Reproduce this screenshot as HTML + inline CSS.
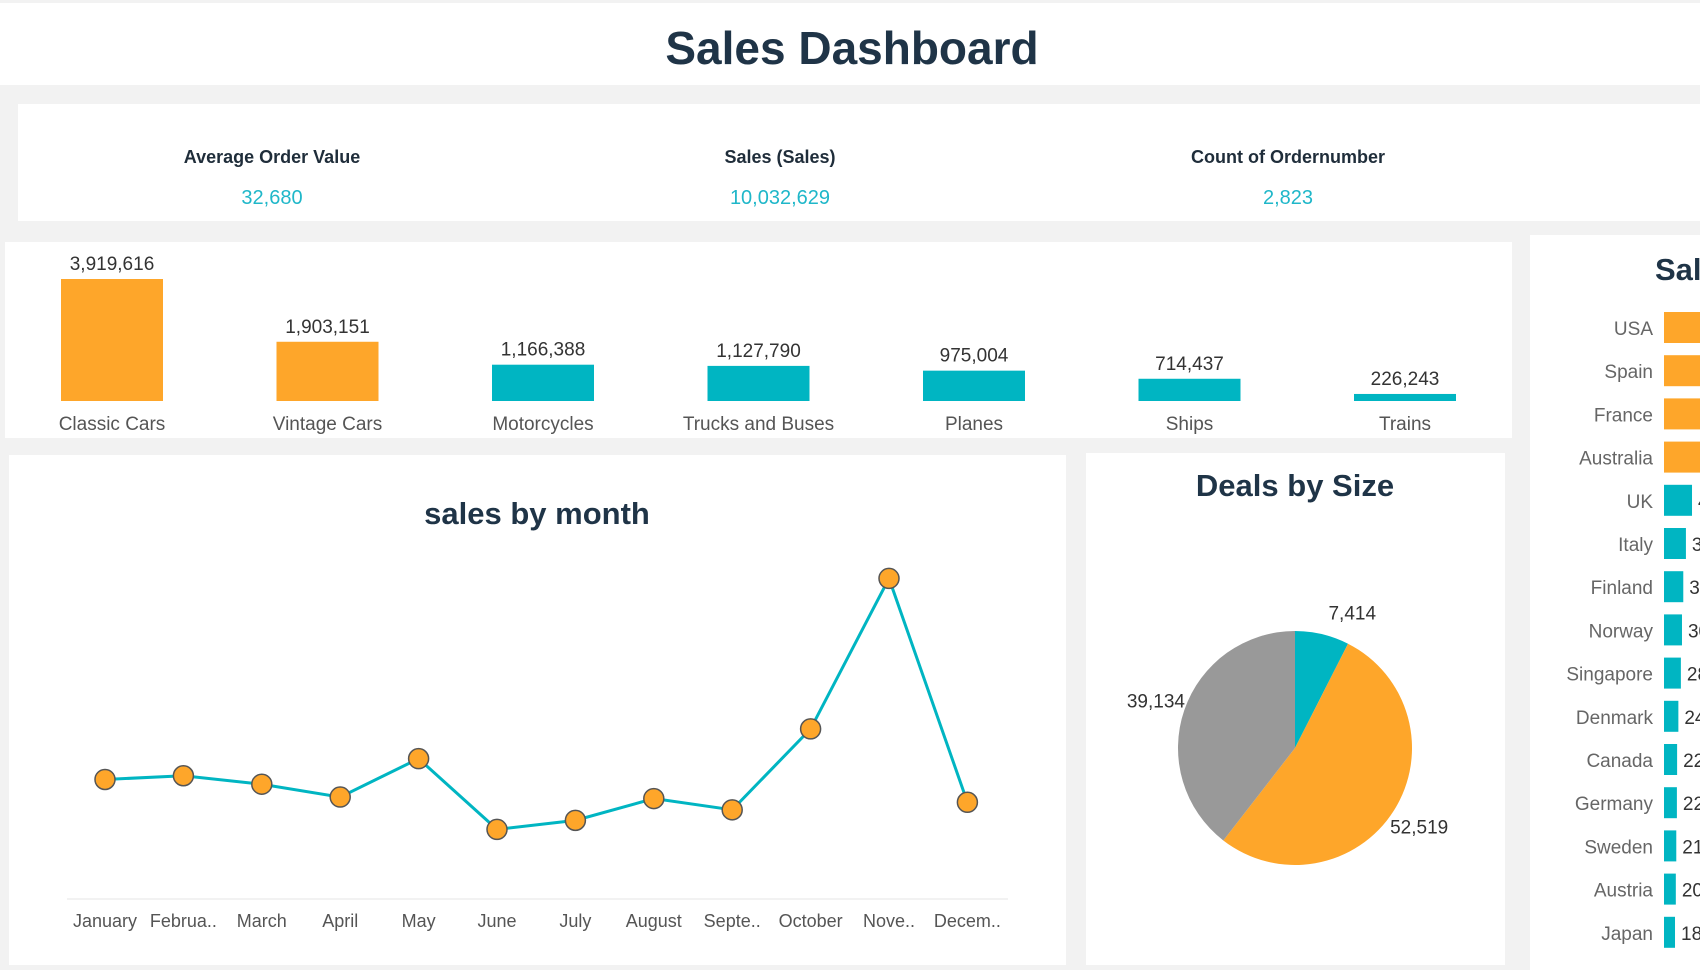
<!DOCTYPE html>
<html><head><meta charset="utf-8"><style>
body{margin:0;width:1700px;height:970px;background:#f2f2f2;overflow:hidden;font-family:"Liberation Sans",sans-serif}
svg{display:block}
</style></head><body>
<svg id="s" width="1700" height="970" xmlns="http://www.w3.org/2000/svg">
<rect x="0" y="3" width="1700" height="82" fill="#fff"/>
<text x="852" y="64" text-anchor="middle" font-size="46" font-weight="bold" fill="#1f3447">Sales Dashboard</text>
<rect x="18" y="104" width="1682" height="117" fill="#fff"/>
<g font-weight="bold" font-size="18" fill="#1f2d3a" text-anchor="middle">
<text x="272" y="163">Average Order Value</text>
<text x="780" y="163">Sales (Sales)</text>
<text x="1288" y="163">Count of Ordernumber</text>
</g>
<g font-size="20" fill="#1fb7c9" text-anchor="middle">
<text x="272" y="204">32,680</text>
<text x="780" y="204">10,032,629</text>
<text x="1288" y="204">2,823</text>
</g>
<rect x="5" y="242" width="1507" height="196" fill="#fff"/>
<g id="cat"></g>
<rect x="9" y="455" width="1057" height="510" fill="#fff"/>
<text x="537" y="524" text-anchor="middle" font-size="31" font-weight="bold" fill="#1f3447">sales by month</text>
<line x1="67" y1="899" x2="1008" y2="899" stroke="#e6e6e6"/>
<g id="line"></g>
<rect x="1086" y="453" width="419" height="512" fill="#fff"/>
<text x="1295" y="496" text-anchor="middle" font-size="31" font-weight="bold" fill="#1f3447">Deals by Size</text>
<g id="pie"></g>
<rect x="1530" y="235" width="170" height="735" fill="#fff"/>
<text x="1655" y="280" font-size="31" font-weight="bold" fill="#1f3447">Sales by Country</text>
<g id="ctry"></g>
</svg>
<script>
const NS="http://www.w3.org/2000/svg";
const catNames=["Classic Cars","Vintage Cars","Motorcycles","Trucks and Buses","Planes","Ships","Trains"];
const catValues=[3919616,1903151,1166388,1127790,975004,714437,226243];
const catColors=["#fea62a","#fea62a","#00b5c2","#00b5c2","#00b5c2","#00b5c2","#00b5c2"];
const months=["January","Februa..","March","April","May","June","July","August","Septe..","October","Nove..","Decem.."];
const monthSales=[785874,810441,754501,669390,923973,454757,514876,659311,584724,1121215,2118886,634679];
const dealSizes=["Small","Large","Medium"];
const dealValues=[7414,52519,39134];
const dealColors=["#00b5c2","#fea62a","#999999"];
const countries=["USA","Spain","France","Australia","UK","Italy","Finland","Norway","Singapore","Denmark","Canada","Germany","Sweden","Austria","Japan"];
const countryValues=[3627983,1215687,1110917,630623,478880,374674,329581,307464,288488,245637,224079,220472,210014,202063,188168];
const fmt=v=>v.toLocaleString("en-US");
function mk(tag,attrs,parent,txt){const e=document.createElementNS(NS,tag);for(const k in attrs)e.setAttribute(k,attrs[k]);if(txt!==undefined)e.textContent=txt;parent.appendChild(e);return e;}
// category bars
const cg=document.getElementById("cat");
const cx=i=>112+i*215.5, ch=v=>v/3919616*122;
catValues.forEach((v,i)=>{
 const h=ch(v);
 const r=mk("rect",{x:cx(i)-51,y:401-h,width:102,height:h,fill:catColors[i]},cg);
 
 
 const t=mk("text",{x:cx(i),y:401-h-9,"text-anchor":"middle","font-size":19,fill:"#333"},cg,fmt(v));
 
 
 const l=mk("text",{x:cx(i),y:430,"text-anchor":"middle","font-size":19,fill:"#555"},cg,catNames[i]);
 
 
});
// line chart
const lg=document.getElementById("line");
const mx=i=>105+i*78.4, my=v=>898-v/2200000*331.8;
const pl=mk("polyline",{points:monthSales.map((v,i)=>mx(i)+","+my(v)).join(" "),fill:"none",stroke:"#00b5c2","stroke-width":3},lg);


monthSales.forEach((v,i)=>{
 const c=mk("circle",{cx:mx(i),cy:my(v),r:10,fill:"#fea62a",stroke:"#555","stroke-width":1.5},lg);
 
 
 const t=mk("text",{x:mx(i),y:927,"text-anchor":"middle","font-size":18,fill:"#555"},lg,months[i]);
 
 
});
// pie
const pg=document.getElementById("pie");
const PCX=1295,PCY=748,PR=117,tot=dealValues.reduce((a,b)=>a+b,0);
let a0=0;
dealValues.forEach((v,i)=>{
 const a1=a0+v/tot*2*Math.PI;
 const p=(a)=>[PCX+PR*Math.sin(a),PCY-PR*Math.cos(a)];
 const [x0,y0]=p(a0),[x1,y1]=p(a1);
 const s=mk("path",{d:`M${PCX},${PCY}L${x0},${y0}A${PR},${PR} 0 ${a1-a0>Math.PI?1:0} 1 ${x1},${y1}Z`,fill:dealColors[i]},pg);
 
 
 let am=(a0+a1)/2; if(i===0) am=a0+0.4;
 const lx=PCX+(PR+30)*Math.sin(am), ly=PCY-(PR+30)*Math.cos(am);
 const t=mk("text",{x:lx,y:ly+7,"text-anchor":"middle","font-size":19,fill:"#333"},pg,fmt(v));
 
 
 a0=a1;
});
// countries
const kg=document.getElementById("ctry");
const ky=i=>328+i*43.2, kw=v=>v*5.85e-5;
countries.forEach((n,i)=>{
 const w=kw(countryValues[i]);
 const r=mk("rect",{x:1664,y:ky(i)-16,width:w,height:31,fill:i<4?"#fea62a":"#00b5c2"},kg);
 
 
 const l=mk("text",{x:1653,y:ky(i)+7,"text-anchor":"end","font-size":19,fill:"#666"},kg,n);
 
 
 const t=mk("text",{x:1664+w+6,y:ky(i)+7,"font-size":19,fill:"#333"},kg,fmt(countryValues[i]));
 
 
});
</script>
</body></html>
